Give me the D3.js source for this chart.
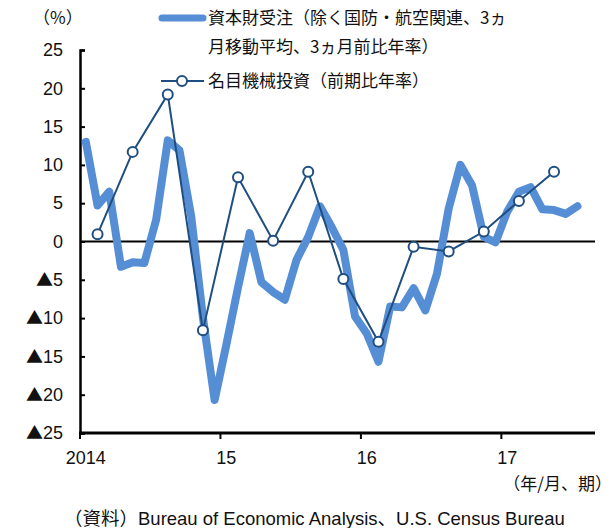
<!DOCTYPE html>
<meta charset="utf-8">
<style>
  body { margin: 0; background: #fff; }
  svg text { font-family: "Liberation Sans", "DejaVu Sans", "Noto Sans CJK JP", sans-serif; fill: #111; }
  svg text.jp, svg tspan.jp { font-family: "Noto Sans CJK JP", sans-serif; }
</style>
<svg width="614" height="528"></svg>
<script src="https://d3js.org/d3.v7.min.js"></script>
<script>

// monthly, Jan 2014 .. Jul 2017
var orders = [13, 4.7, 6.5, -3.3, -2.7, -2.8, 2.8, 13.2, 11.9, 3.3, -9.9, -20.7,
  -13.5, -6, 1.1, -5.3, -6.6, -7.6, -2.4, 0.6, 4.6, 1.9, -1.1, -9.8,
  -12, -15.7, -8.5, -8.6, -6.1, -9, -4.2, 4.3, 10, 7.3, 0.6, -0.1,
  3.9, 6.5, 7.1, 4.2, 4.1, 3.6, 4.6];

// quarterly, 2014Q1 .. 2017Q2 (plotted at middle month)
var invest = [0.95, 11.7, 19.2, -11.6, 8.4, 0.1, 9.1, -4.9, -13.1, -0.7, -1.3, 1.3, 5.3, 9.1];

var yTicks = [25, 20, 15, 10, 5, 0, -5, -10, -15, -20, -25];
var yearLabels = ["2014", "15", "16", "17"];
var nMonths = 44;

var svg = d3.select("svg"),
    plotL = 80, plotR = 595, plotT = 50, plotB = 433;

var x = d3.scaleBand().domain(d3.range(nMonths)).range([plotL, plotR]),
    y = d3.scaleLinear().domain([-25, 25]).range([plotB, plotT]);

var cx = function(i) { return x(i) + x.bandwidth() / 2; };

// y axis
var yAxis = svg.append("g").attr("transform", "translate(" + plotL + ",0)")
    .call(d3.axisLeft(y).tickValues(yTicks).tickSize(-5).tickPadding(17));
yAxis.select(".domain").attr("stroke", "#000").attr("stroke-width", 2.5);
yAxis.selectAll(".tick line").attr("stroke", "#000").attr("stroke-width", 2);
yAxis.selectAll(".tick text")
    .style("font-size", "18px").attr("fill", "#111").attr("font-family", null)
    .each(function(d) {
      var t = d3.select(this).text("");
      if (d < 0) t.append("tspan").attr("class", "jp").style("font-size", "17px").text("▲");
      t.append("tspan").text(Math.abs(d));
    });

svg.append("text").attr("class", "jp").attr("x", 33).attr("y", 24)
    .style("font-size", "17px").text("（%）");

// zero line
svg.append("line")
    .attr("x1", plotL).attr("x2", plotR)
    .attr("y1", y(0)).attr("y2", y(0))
    .attr("stroke", "#000").attr("stroke-width", 2);

// x axis
var xAxis = svg.append("g").attr("transform", "translate(0," + plotB + ")");
xAxis.append("line").attr("x1", plotL - 1).attr("x2", plotR)
    .attr("stroke", "#000").attr("stroke-width", 3);
xAxis.selectAll(".tk").data(yearLabels).enter().append("line")
    .attr("x1", function(d, i) { return x(i * 12); })
    .attr("x2", function(d, i) { return x(i * 12); })
    .attr("y1", 0).attr("y2", 6)
    .attr("stroke", "#000").attr("stroke-width", 2);
xAxis.selectAll(".lb").data(yearLabels).enter().append("text")
    .attr("x", function(d, i) { return cx(i * 12); })
    .attr("y", 31)
    .attr("text-anchor", "middle")
    .style("font-size", "18px")
    .text(function(d) { return d; });

svg.append("text").attr("class", "jp").attr("x", 612).attr("y", 490).attr("text-anchor", "end")
    .style("font-size", "17px").text("（年/月、期）");
svg.append("text").attr("x", 64).attr("y", 525)
    .style("font-size", "18.5px").text("（資料）Bureau of Economic Analysis、U.S. Census Bureau");

// series
var line = d3.line().x(function(d, i) { return cx(i); }).y(function(d) { return y(d); });

svg.append("path").datum(orders)
    .attr("d", line)
    .attr("fill", "none")
    .attr("stroke", "#558ed5")
    .attr("stroke-width", 8)
    .attr("stroke-linejoin", "round")
    .attr("stroke-linecap", "round");

var qLine = d3.line().x(function(d, i) { return cx(i * 3 + 1); }).y(function(d) { return y(d); });

svg.append("path").datum(invest)
    .attr("d", qLine)
    .attr("fill", "none")
    .attr("stroke", "#1f4e80")
    .attr("stroke-width", 2);

svg.selectAll(".pt").data(invest).enter().append("circle")
    .attr("cx", function(d, i) { return cx(i * 3 + 1); })
    .attr("cy", function(d) { return y(d); })
    .attr("r", 5)
    .attr("fill", "#fff")
    .attr("stroke", "#1f4e80")
    .attr("stroke-width", 2);

// legend
var lg = svg.append("g");
lg.append("line").attr("x1", 162).attr("x2", 203).attr("y1", 18).attr("y2", 18)
    .attr("stroke", "#558ed5").attr("stroke-width", 7).attr("stroke-linecap", "round");
lg.append("text").attr("class", "jp").attr("x", 208).attr("y", 24).style("font-size", "17px")
    .text("資本財受注（除く国防・航空関連、3ヵ");
lg.append("text").attr("class", "jp").attr("x", 208).attr("y", 53).style("font-size", "17px")
    .text("月移動平均、3ヵ月前比年率）");
lg.append("line").attr("x1", 161).attr("x2", 204).attr("y1", 81).attr("y2", 81)
    .attr("stroke", "#1f4e80").attr("stroke-width", 2);
lg.append("circle").attr("cx", 182).attr("cy", 81).attr("r", 5)
    .attr("fill", "#fff").attr("stroke", "#1f4e80").attr("stroke-width", 2);
lg.append("text").attr("class", "jp").attr("x", 208).attr("y", 87).style("font-size", "17px")
    .text("名目機械投資（前期比年率）");

</script>
